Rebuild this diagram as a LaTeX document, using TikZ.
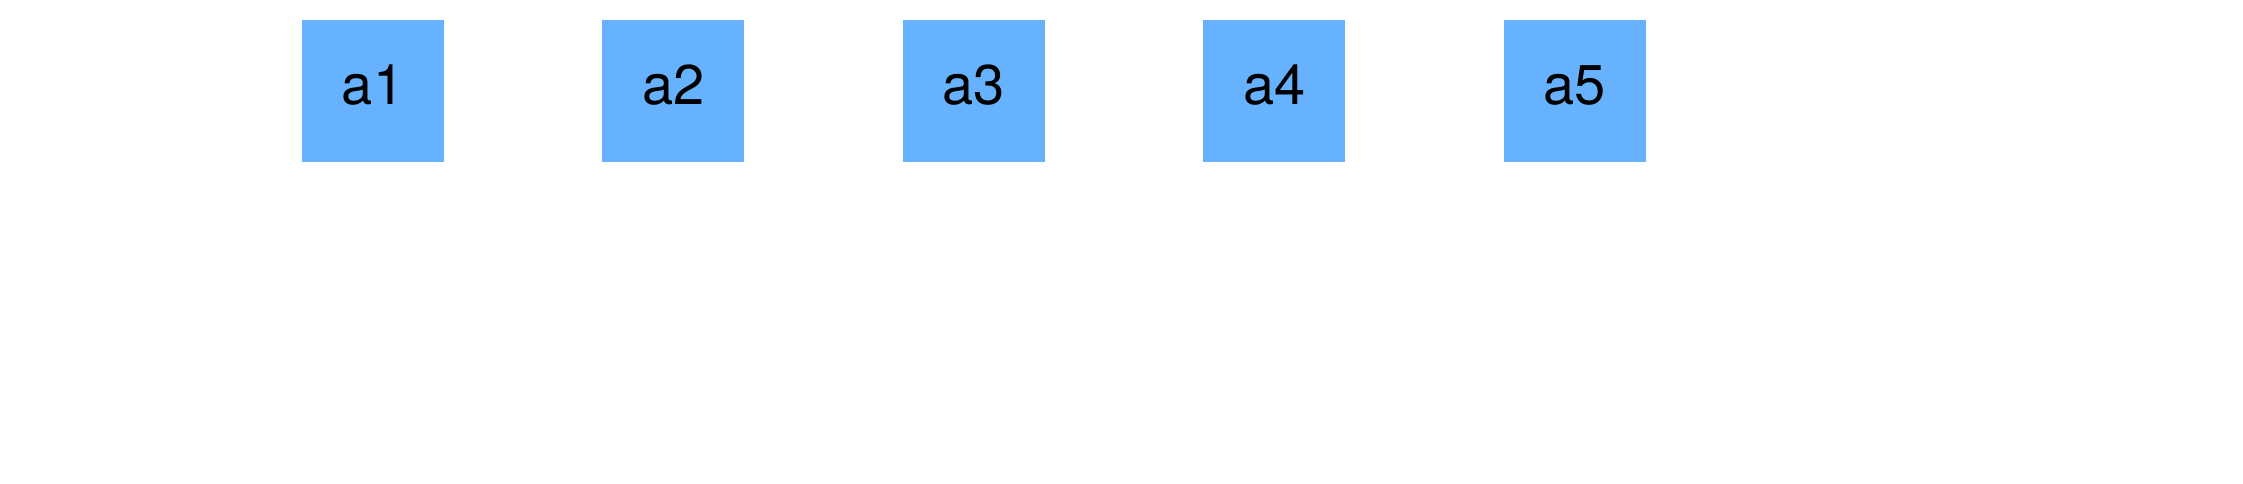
\documentclass[tikz,border=0pt]{standalone}
\usepackage{fontspec}
\setmainfont{TeX Gyre Heros}
\usepackage{tikz}
\usetikzlibrary{positioning}
\definecolor{boxblue}{HTML}{66B2FF}

\begin{document}
\begin{tikzpicture}[x=1pt, y=1pt, node distance=158pt]
\tikzstyle{block} = [fill=boxblue, rectangle, inner sep=0pt, minimum width=142pt, minimum height=142pt, text depth=12pt, font=\fontsize{56}{60}\selectfont]

\useasboundingbox (0,0) rectangle (2243,-483);

    % We start by placing the blocks
    \node [block] at (373,-91) (a1) {a1};
    \node [block, right = of a1] (a2) {a2};
    \node [block, right = of a2] (a3) {a3};
    \node [block, right = of a3] (a4) {a4};
    \node [block, right = of a4] (a5) {a5};

\end{tikzpicture}
\end{document}
